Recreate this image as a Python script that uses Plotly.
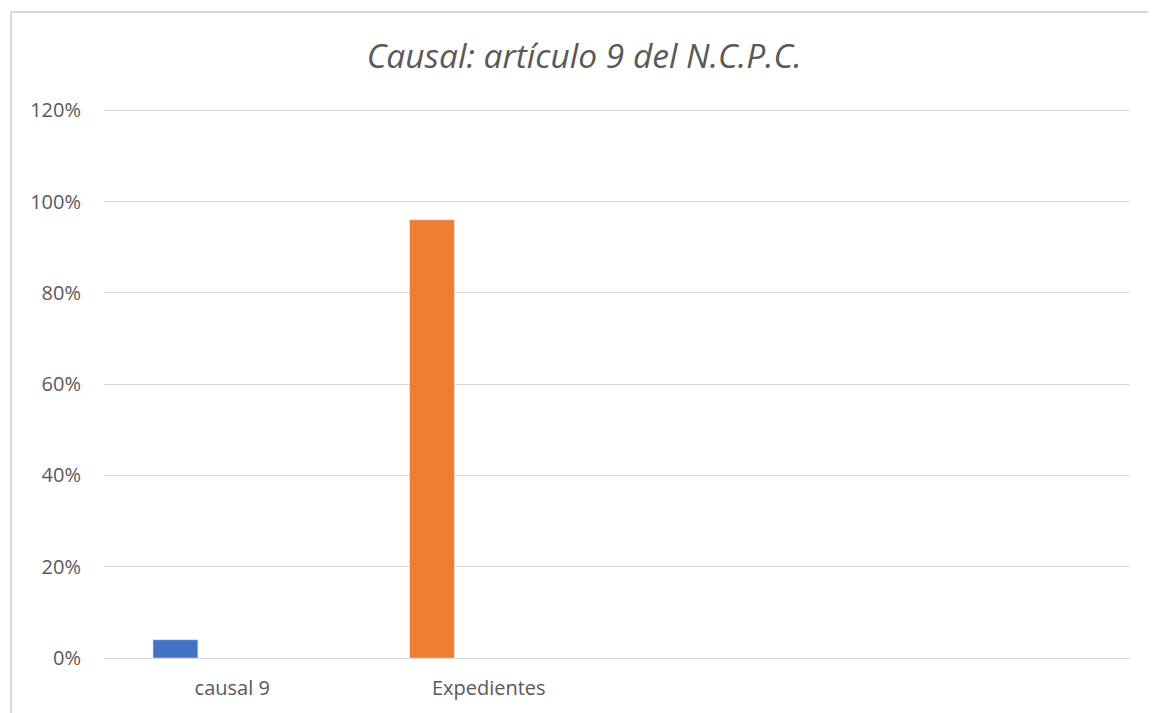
import plotly.graph_objects as go

# datos
categorias = ['causal 9', 'Expedientes', ' ', '  ']
serie_causal = [0.04, None, None, None]
serie_expedientes = [None, 0.96, None, None]
ticks_y = [0, 0.2, 0.4, 0.6, 0.8, 1.0, 1.2]
etiquetas_y = ['0%', '20%', '40%', '60%', '80%', '100%', '120%']

gris_texto = '#595959'
gris_linea = '#d9d9d9'
fuente = 'Open Sans'

# la página deja 8px de margen, por eso la figura es 8px más chica
ancho, alto = 1148, 705

fig = go.Figure()
fig.add_trace(go.Bar(x=categorias, y=serie_causal, marker_color='#4472c4',
                     width=0.175, offset=-0.309, name='causal 9'))
fig.add_trace(go.Bar(x=categorias, y=serie_expedientes, marker_color='#ed7d31',
                     width=0.175, offset=-0.309, name='Expedientes'))

fig.update_layout(
    width=ancho, height=alto,
    margin=dict(l=96, r=26, t=100, b=55, autoexpand=False),
    paper_bgcolor='white', plot_bgcolor='white',
    showlegend=False,
    font=dict(family=fuente, color=gris_texto, size=20),
    title=dict(text='<i>Causal: artículo 9 del N.C.P.C.</i>',
               x=0.468, xref='paper', xanchor='center',
               y=1 - 48 / alto, yref='container', yanchor='middle',
               font=dict(family=fuente, size=33.5, color=gris_texto)),
)

fig.update_xaxes(type='category', categoryorder='array', categoryarray=categorias,
                 range=[-0.5, 3.5], showgrid=False, showline=True,
                 linecolor=gris_linea, linewidth=1, ticks='', automargin=False,
                 ticklabelstandoff=12, tickfont=dict(size=20, color=gris_texto))
fig.update_yaxes(range=[0, 1.205], tickvals=ticks_y, ticktext=etiquetas_y,
                 showgrid=True, gridcolor=gris_linea, gridwidth=1,
                 zeroline=False, showline=False, ticks='', automargin=False,
                 ticklabelstandoff=22, tickfont=dict(size=20, color=gris_texto))

# marco del área del gráfico (solo borde superior e izquierdo visibles)
alto_plot = alto - 100 - 55
x_izq = (3 - 96) / 1026
y_sup = (650 - 4) / alto_plot
fig.add_shape(type='line', xref='paper', yref='paper', x0=x_izq, x1=1.1,
              y0=y_sup, y1=y_sup, line=dict(color=gris_linea, width=2))
fig.add_shape(type='line', xref='paper', yref='paper', x0=x_izq, x1=x_izq,
              y0=y_sup, y1=-0.2, line=dict(color=gris_linea, width=2))

fig.write_html('out.html')
